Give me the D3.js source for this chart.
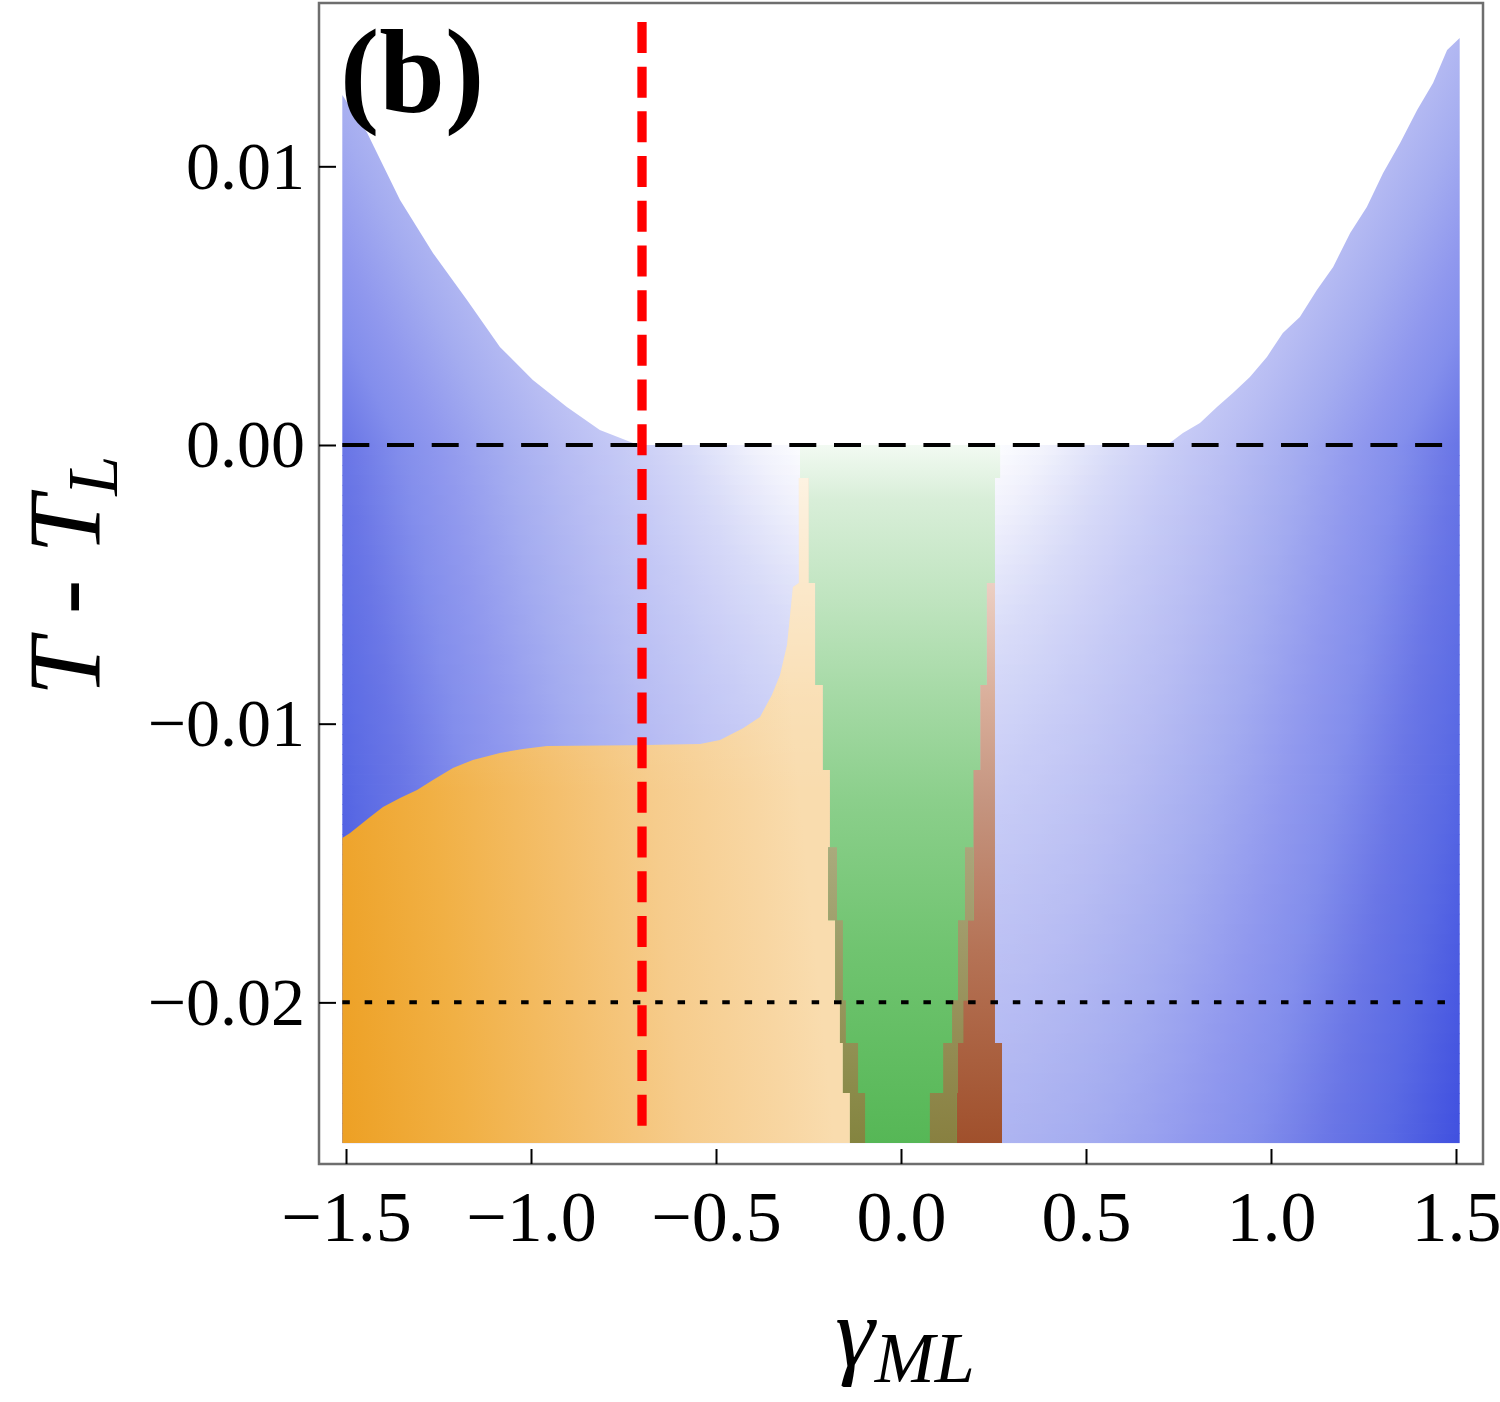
<!DOCTYPE html>
<html lang="en">
<head>
  <meta charset="utf-8">
  <title>Phase diagram (b)</title>
  <script src="https://d3js.org/d3.v7.min.js"></script>
  <style>
    body { margin: 0; background: #fff; }
    text { font-family: "Liberation Serif", "DejaVu Serif", serif; fill: #000; }
  </style>
</head>
<body>
<svg width="1500" height="1402"></svg>
<script>
// axis ticks
var gammaTicks = [-1.5, -1.0, -0.5, 0.0, 0.5, 1.0, 1.5];
var tempTicks = [0.01, 0.00, -0.01, -0.02];

// plotted range of the region plot
var gammaRange = [-1.51, 1.51];
var tempBottom = -0.02505;

// upper edge of the blue region (left branch, right branch)
var blueTopLeft = [[-1.51, 0.01256], [-1.443, 0.0112], [-1.354, 0.00879], [-1.265, 0.00689],
  [-1.173, 0.0052], [-1.084, 0.00352], [-0.995, 0.00233], [-0.903, 0.00136],
  [-0.814, 0.00054], [-0.724, 0.00007], [-0.705, 0]];
var blueTopRight = [[0.719, 0], [0.762, 0.00043], [0.808, 0.00079], [0.854, 0.00136],
  [0.897, 0.00187], [0.943, 0.00244], [0.989, 0.00316], [1.032, 0.00402], [1.078, 0.00459],
  [1.124, 0.00556], [1.168, 0.00639], [1.214, 0.00761], [1.259, 0.00854], [1.303, 0.00976],
  [1.349, 0.01084], [1.395, 0.01202], [1.438, 0.01299], [1.476, 0.01417], [1.51, 0.0146]];

// upper edge of the orange region
var orangeTop = [[-1.51, -0.0141], [-1.489, -0.01392], [-1.435, -0.01335], [-1.4, -0.01299],
  [-1.354, -0.01267], [-1.308, -0.01238], [-1.265, -0.01202], [-1.211, -0.01159],
  [-1.157, -0.0113], [-1.084, -0.01105], [-1.022, -0.01091], [-0.957, -0.0108],
  [-0.724, -0.01077], [-0.543, -0.01073], [-0.489, -0.01059], [-0.427, -0.01016],
  [-0.381, -0.00976], [-0.349, -0.00897], [-0.327, -0.00825], [-0.308, -0.00718],
  [-0.292, -0.0051], [-0.276, -0.00495], [-0.276, -0.00118]];

// stepped edges of the central strips, one value per temperature band
var bandY = [0, -0.00118, -0.00495, -0.00861, -0.01166, -0.01443, -0.01705, -0.01992, -0.02146, -0.02325, -0.02505];
var greenLeft   = [-0.273, -0.249, -0.232, -0.211, -0.192, -0.197, -0.178, -0.165, -0.157, -0.138];
var greenRight  = [0.268, 0.254, 0.232, 0.214, 0.197, 0.197, 0.181, 0.168, 0.154, 0.151];
var orangeRight = [null, -0.249, -0.232, -0.211, -0.192, -0.173, -0.157, -0.149, -0.116, -0.097];
var brownLeft   = [null, null, 0.232, 0.214, 0.195, 0.173, 0.154, 0.138, 0.114, 0.078];
var brownRight  = [null, null, 0.254, 0.254, 0.254, 0.254, 0.254, 0.254, 0.273, 0.273];

// reference lines
var criticalGamma = -0.70;
var criticalSpan = [0.01518, -0.02444];
var dashedTemp = 0.0;
var dottedTemp = -0.02;

// blue shading ramp (distance from the white centre, px -> colour)
var shadeE = [0, 100, 150, 214, 270, 334, 400, 460, 500, 555, 600, 680, 750];
var shadeC = ["#ffffff", "#fcfcff", "#f0f1fc", "#d8dbf8", "#c8ccf6", "#b8bdf3", "#a4acf0",
  "#9098ee", "#838eec", "#6a76e6", "#5a6ae4", "#3848de", "#3040dc"];

var svg = d3.select("svg");
var x = d3.scaleLinear().domain([-1.573, 1.573]).range([319, 1483]);
var y = d3.scaleLinear().domain([0.01586, -0.0258]).range([3, 1164]);
var shade = d3.scaleLinear().domain(shadeE).range(shadeC).clamp(true);

var line = d3.line().x(function(d) { return x(d[0]); }).y(function(d) { return y(d[1]); });

function bandPoints(xs, i0, i1) {
  var pts = [];
  for (var i = i0; i <= i1; i++) {
    pts.push([xs[i], bandY[i]]);
    pts.push([xs[i], bandY[i + 1]]);
  }
  return pts;
}

var bluePoly = blueTopLeft.concat(blueTopRight).concat([[gammaRange[1], tempBottom], [gammaRange[0], tempBottom]]);
var orangePoly = orangeTop.concat(bandPoints(orangeRight, 1, 9)).concat([[gammaRange[0], tempBottom]]);
var greenPoly = bandPoints(greenLeft, 0, 9).concat(bandPoints(greenRight, 0, 9).reverse());
var brownPoly = bandPoints(brownLeft, 2, 9).concat(bandPoints(brownRight, 2, 9).reverse());

var defs = svg.append("defs");

function addGradient(id, x1, y1, x2, y2, stops) {
  var g = defs.append("linearGradient").attr("id", id)
    .attr("gradientUnits", "userSpaceOnUse")
    .attr("x1", x1).attr("y1", y1).attr("x2", x2).attr("y2", y2);
  stops.forEach(function(s) {
    g.append("stop").attr("offset", s[0]).attr("stop-color", s[1])
      .attr("stop-opacity", s.length > 2 ? s[2] : 1);
  });
  return g;
}

var cx = x(0), cy = y(0);
var xl = x(gammaRange[0]), xr = x(gammaRange[1]);
var plotTop = y(0), plotBot = y(tempBottom);

// above T_L: tilted ramps mirrored about gamma = 0
var upStops = shadeE.map(function(e, i) { return [e / 750, shadeC[i]]; });
addGradient("blueUR", cx, cy, cx + 600, cy + 300, upStops);
addGradient("blueUL", cx, cy, cx - 600, cy + 300, upStops);

addGradient("orangeG", xl, plotBot, 830, plotBot - 49,
  [[0, "#eda024"], [0.25, "#f1b044"], [0.5, "#f4bf6c"], [0.7, "#f6cc8c"], [0.9, "#f8d6a2"], [1, "#f9dcae"]]);
addGradient("orangeFade", 0, y(-0.001), 0, y(-0.0125),
  [[0, "#ffffff", 0.65], [0.35, "#ffffff", 0.35], [0.7, "#ffffff", 0.1], [1, "#ffffff", 0]]);

function vStops(pairs) {
  return pairs.map(function(p) { return [(p[0] - plotTop) / (plotBot - plotTop), p[1]]; });
}
addGradient("greenG", 0, plotTop, 0, plotBot,
  vStops([[445, "#f2faf2"], [500, "#d8eed8"], [600, "#bfe4bf"], [700, "#a4d9a4"], [800, "#8bcf8b"], [950, "#70c470"], [1143, "#56b756"]]));
addGradient("brownG", 0, plotTop, 0, plotBot,
  vStops([[478, "#f4e0d8"], [583, "#eccfc3"], [700, "#d9ae9a"], [800, "#c59580"], [950, "#b57356"], [1143, "#a0502c"]]));
addGradient("oliveG", 0, plotTop, 0, plotBot,
  vStops([[583, "#c8d0ae"], [850, "#a9aa7c"], [1143, "#84843f"]]));
addGradient("oliveBrG", 0, plotTop, 0, plotBot,
  vStops([[583, "#cfc4a8"], [850, "#aaa57a"], [1143, "#888040"]]));

defs.append("clipPath").attr("id", "upLeft").append("rect")
  .attr("x", 0).attr("y", 0).attr("width", cx).attr("height", cy);
defs.append("clipPath").attr("id", "upRight").append("rect")
  .attr("x", cx).attr("y", 0).attr("width", 1500 - cx).attr("height", cy);
defs.append("clipPath").attr("id", "greenClip").append("path")
  .attr("d", line(greenPoly) + "Z");

var regions = svg.append("g");

// blue region above T_L
regions.append("path").attr("d", line(bluePoly) + "Z").attr("fill", "url(#blueUL)").attr("clip-path", "url(#upLeft)");
regions.append("path").attr("d", line(bluePoly) + "Z").attr("fill", "url(#blueUR)").attr("clip-path", "url(#upRight)");

// blue region below T_L: thin horizontal strips, each with its own mirrored ramp
var nStrips = 70, stripH = (plotBot - plotTop) / nStrips, halfW = Math.max(cx - xl, xr - cx);
var nS = 40;
for (var i = 0; i < nStrips; i++) {
  var depth = (i + 0.5) * stripH;
  var stops = [];
  for (var j = nS; j >= 0; j--) {
    var dx = halfW * j / nS;
    stops.push([0.5 - 0.5 * j / nS, shade(Math.sqrt(dx * dx + 180 * depth))]);
  }
  for (var k = 1; k <= nS; k++) {
    var dx2 = halfW * k / nS;
    stops.push([0.5 + 0.5 * k / nS, shade(Math.sqrt(dx2 * dx2 + 180 * depth))]);
  }
  addGradient("strip" + i, cx - halfW, 0, cx + halfW, 0, stops);
  regions.append("rect")
    .attr("x", xl).attr("width", xr - xl)
    .attr("y", plotTop + i * stripH).attr("height", stripH + (i < nStrips - 1 ? 0.8 : 0))
    .attr("fill", "url(#strip" + i + ")");
}

regions.append("path").attr("d", line(orangePoly) + "Z").attr("fill", "url(#orangeG)");
regions.append("path").attr("d", line(orangePoly) + "Z").attr("fill", "url(#orangeFade)");
regions.append("path").attr("d", line(brownPoly) + "Z").attr("fill", "url(#brownG)");
regions.append("path").attr("d", line(greenPoly) + "Z").attr("fill", "url(#greenG)");
// overlaps with the green strip
regions.append("path").attr("d", line(orangePoly) + "Z").attr("fill", "url(#oliveG)").attr("clip-path", "url(#greenClip)");
regions.append("path").attr("d", line(brownPoly) + "Z").attr("fill", "url(#oliveBrG)").attr("clip-path", "url(#greenClip)");

// reference lines
svg.append("line")
  .attr("x1", xl).attr("x2", xr)
  .attr("y1", y(dashedTemp)).attr("y2", y(dashedTemp))
  .attr("stroke", "#000").attr("stroke-width", 4).attr("stroke-dasharray", "27 17.7");
svg.append("line")
  .attr("x1", xl).attr("x2", xr)
  .attr("y1", y(dottedTemp)).attr("y2", y(dottedTemp))
  .attr("stroke", "#000").attr("stroke-width", 4).attr("stroke-dasharray", "7.5 14.85");
svg.append("line")
  .attr("x1", x(criticalGamma)).attr("x2", x(criticalGamma))
  .attr("y1", y(criticalSpan[0])).attr("y2", y(criticalSpan[1]))
  .attr("stroke", "#ff0000").attr("stroke-width", 9.3).attr("stroke-dasharray", "31 13.7");

// frame
svg.append("rect")
  .attr("x", x.range()[0]).attr("y", y.range()[0])
  .attr("width", x.range()[1] - x.range()[0]).attr("height", y.range()[1] - y.range()[0])
  .attr("fill", "none").attr("stroke", "#6e6e6e").attr("stroke-width", 2.5);

// axes, ticks pointing inwards
var yAxis = svg.append("g")
  .attr("transform", "translate(" + x.range()[0] + ",0)")
  .call(d3.axisLeft(y).tickValues(tempTicks).tickFormat(d3.format(".2f"))
    .tickSizeInner(-17).tickSizeOuter(0).tickPadding(14));
yAxis.select(".domain").remove();
yAxis.selectAll(".tick line").attr("stroke", "#000").attr("stroke-width", 2);
yAxis.selectAll(".tick text").attr("font-size", 68).attr("font-family", "Liberation Serif");

var xAxis = svg.append("g")
  .attr("transform", "translate(0," + y.range()[1] + ")")
  .call(d3.axisBottom(x).tickValues(gammaTicks).tickFormat(d3.format(".1f"))
    .tickSizeInner(-15).tickSizeOuter(0).tickPadding(26));
xAxis.select(".domain").remove();
xAxis.selectAll(".tick line").attr("stroke", "#000").attr("stroke-width", 2);
xAxis.selectAll(".tick text").attr("font-size", 72).attr("font-family", "Liberation Serif");

// axis titles and panel label
var yt = svg.append("text")
  .attr("transform", "translate(100,576) rotate(-90)")
  .attr("text-anchor", "middle").attr("font-style", "italic").attr("font-size", 104);
yt.append("tspan").text("T - T");
yt.append("tspan").attr("font-size", 72).attr("dy", 17).text("L");

var xt = svg.append("text")
  .attr("x", 905).attr("y", 1366)
  .attr("text-anchor", "middle").attr("font-style", "italic").attr("font-size", 100);
xt.append("tspan").text("γ");
xt.append("tspan").attr("font-size", 72).attr("dy", 16).text("ML");

svg.append("text").attr("x", 340).attr("y", 111)
  .attr("font-size", 118).attr("font-weight", "bold").text("(b)");
</script>
</body>
</html>
